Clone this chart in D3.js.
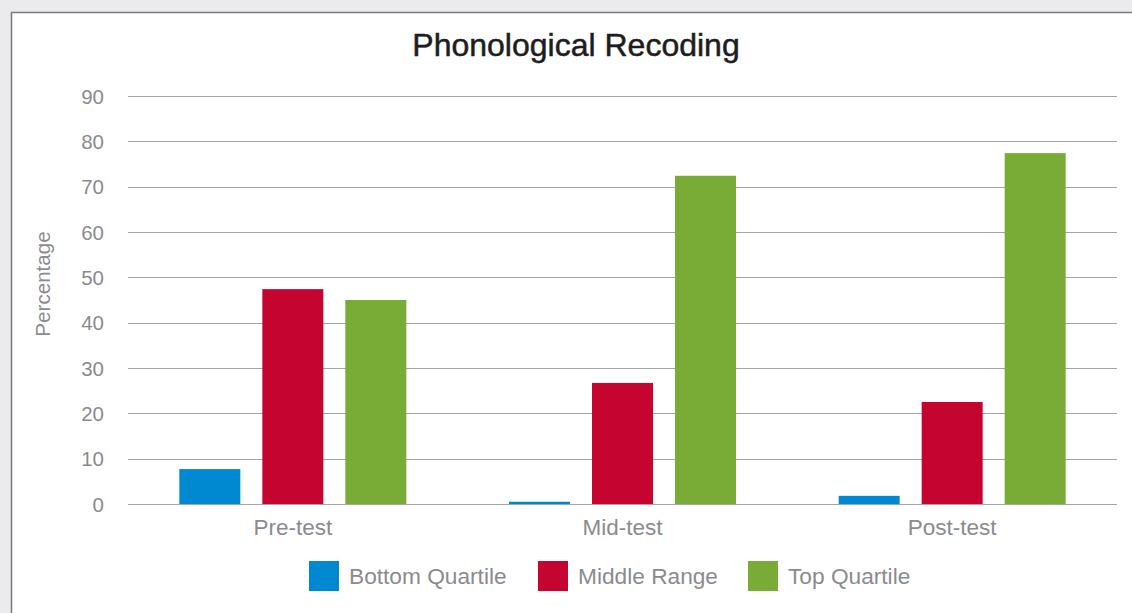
<!DOCTYPE html>
<html>
<head>
<meta charset="utf-8">
<script src="https://cdn.jsdelivr.net/npm/d3@7"></script>
<style>
  body { margin: 0; background: #ebebed; }
  svg { display: block; }
  .grid line { stroke: #a4a4a6; stroke-width: 1.2; }
  .tick-label, .cat-label, .legend-text, .y-title { fill: #8b8b8f; font-family: "Liberation Sans", Arial, sans-serif; }
</style>
</head>
<body>
<div id="chart"></div>
<script>
var categories = ["Pre-test", "Mid-test", "Post-test"];
var seriesNames = ["Bottom Quartile", "Middle Range", "Top Quartile"];
var seriesColors = ["#0088d0", "#c5052f", "#79ab37"];
var bottomQuartile = [7.7, 0.5, 1.8];
var middleRange = [47.4, 26.7, 22.5];
var topQuartile = [45.0, 72.4, 77.4];
var yTicks = [0, 10, 20, 30, 40, 50, 60, 70, 80, 90];

var W = 1132, H = 613;
var margin = {top: 96, right: 15, bottom: 109, left: 128};
var width = W - margin.left - margin.right,
    height = H - margin.top - margin.bottom;

var svg = d3.select("#chart")
  .append("svg")
    .attr("width", W)
    .attr("height", H);

// white panel with border
svg.append("rect")
  .attr("x", 11.5)
  .attr("y", 12.5)
  .attr("width", W + 10)
  .attr("height", H + 10)
  .attr("fill", "#fff")
  .attr("stroke", "#7a7a7c")
  .attr("stroke-width", 1.5);

svg.append("text")
  .attr("x", 576)
  .attr("y", 56)
  .attr("text-anchor", "middle")
  .attr("font-family", "'Liberation Sans', Arial, sans-serif")
  .attr("font-size", 32)
  .attr("fill", "#1d1d1f")
  .attr("stroke", "#1d1d1f")
  .attr("stroke-width", 0.5)
  .text("Phonological Recoding");

var g = svg.append("g")
  .attr("transform", `translate(${margin.left},${margin.top})`);

var x0 = d3.scaleBand().domain(categories).range([0, width]);
var y = d3.scaleLinear().domain([0, 90]).range([height, 0]);

var barW = 61, step = 83;
var x1 = d3.scaleLinear().domain([0, 2]).range([-step, step]);

g.append("g")
  .attr("class", "grid")
  .selectAll("line")
  .data(yTicks)
  .enter().append("line")
    .attr("x1", 0)
    .attr("x2", width)
    .attr("y1", d => Math.round(y(d)) + 0.5)
    .attr("y2", d => Math.round(y(d)) + 0.5);

g.selectAll(".tick-label")
  .data(yTicks)
  .enter().append("text")
    .attr("class", "tick-label")
    .attr("x", -24)
    .attr("y", d => y(d) + 7.5)
    .attr("text-anchor", "end")
    .attr("font-size", 20.5)
    .text(d => d);

g.append("text")
  .attr("class", "y-title")
  .attr("transform", `translate(${43 - margin.left},${height / 2 - 16}) rotate(-90)`)
  .attr("dy", "0.35em")
  .attr("text-anchor", "middle")
  .attr("font-size", 20.6)
  .text("Percentage");

var series = [bottomQuartile, middleRange, topQuartile];
var rows = [];
series.forEach(function(vals, s) {
  vals.forEach(function(v, i) {
    rows.push({cat: categories[i], s: s, v: v});
  });
});

g.selectAll(".bar")
  .data(rows)
  .enter().append("rect")
    .attr("class", "bar")
    .attr("x", d => x0(d.cat) + x0.bandwidth() / 2 + x1(d.s) - barW / 2)
    .attr("y", d => y(d.v))
    .attr("width", barW)
    .attr("height", d => y(0) - y(d.v))
    .attr("fill", d => seriesColors[d.s]);

g.selectAll(".cat-label")
  .data(categories)
  .enter().append("text")
    .attr("class", "cat-label")
    .attr("x", d => x0(d) + x0.bandwidth() / 2)
    .attr("y", height + 31)
    .attr("text-anchor", "middle")
    .attr("font-size", 22.5)
    .text(d => d);

var legendX = [309, 538, 748];
var legend = svg.selectAll(".legend")
  .data(seriesNames)
  .enter().append("g")
    .attr("class", "legend")
    .attr("transform", (d, i) => `translate(${legendX[i]},561)`);

legend.append("rect")
  .attr("width", 30)
  .attr("height", 30)
  .attr("fill", (d, i) => seriesColors[i]);

legend.append("text")
  .attr("class", "legend-text")
  .attr("x", 40)
  .attr("y", 23)
  .attr("font-size", 22.7)
  .text(d => d);
</script>
</body>
</html>
